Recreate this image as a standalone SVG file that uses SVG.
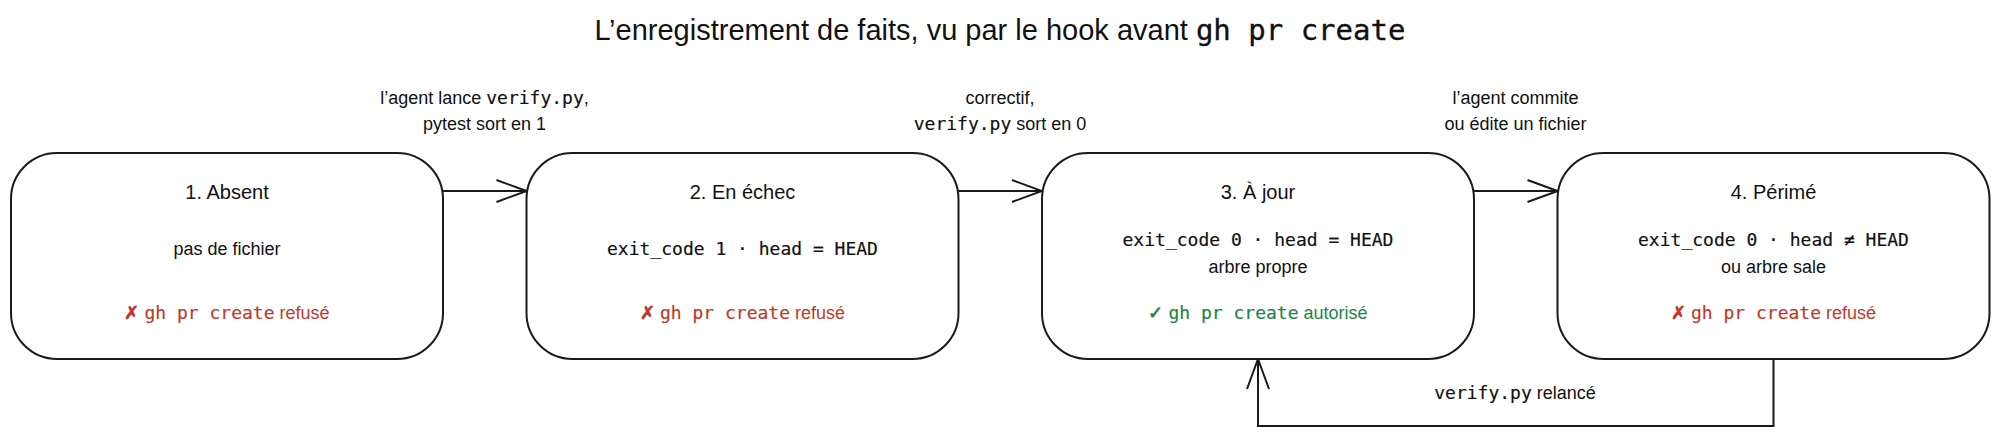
<svg xmlns="http://www.w3.org/2000/svg" width="2000" height="437" viewBox="0 0 2000 437">
<defs>
<style>
.bg{fill:#ffffff}
.node{fill:#ffffff;stroke:#1a1a1a;stroke-width:2}
.edge{fill:none;stroke:#1a1a1a;stroke-width:2}
.sans{font-family:"Liberation Sans",Arial,sans-serif;fill:#111111}
.mono{font-family:"DejaVu Sans Mono","Liberation Mono",monospace;stroke:currentColor;stroke-width:0.18px}
.ink{color:#111111}
.title{font-size:29px}
.ntitle{font-size:20px}
.body{font-size:18px}
.red{fill:#c0392b;color:#c0392b}
.green{fill:#1e8449;color:#1e8449}
.sym{font-weight:bold}
</style>
<marker id="arr" viewBox="0 0 34 26" refX="32" refY="13" markerWidth="34" markerHeight="26" markerUnits="userSpaceOnUse" orient="auto">
<path d="M2,2 L32,13 L2,24" fill="none" stroke="#1a1a1a" stroke-width="2"/>
</marker>
</defs>
<rect class="bg" x="0" y="0" width="2000" height="437"/>
<text class="sans title ink" x="1000" y="40" text-anchor="middle">L’enregistrement de faits, vu par le hook avant <tspan class="mono" style="stroke-width:0.35px">gh pr create</tspan></text>

<g id="connectors">
<line class="edge" x1="443" y1="191" x2="526.5" y2="191" marker-end="url(#arr)"/>
<line class="edge" x1="958.5" y1="191" x2="1042" y2="191" marker-end="url(#arr)"/>
<line class="edge" x1="1474" y1="191" x2="1557.5" y2="191" marker-end="url(#arr)"/>
<polyline class="edge" points="1773.5,359 1773.5,426 1258,426 1258,359" marker-end="url(#arr)"/>
<text class="sans body ink" x="484.5" y="104" text-anchor="middle">l’agent lance <tspan class="mono">verify.py</tspan>,</text>
<text class="sans body" x="484.5" y="130" text-anchor="middle">pytest sort en 1</text>
<text class="sans body" x="1000" y="104" text-anchor="middle">correctif,</text>
<text class="sans body ink" x="1000" y="130" text-anchor="middle"><tspan class="mono">verify.py</tspan> sort en 0</text>
<text class="sans body" x="1515.5" y="104" text-anchor="middle">l’agent commite</text>
<text class="sans body" x="1515.5" y="130" text-anchor="middle">ou édite un fichier</text>
<text class="sans body ink" x="1515" y="399" text-anchor="middle"><tspan class="mono">verify.py</tspan> relancé</text>
</g>

<g id="n1">
<rect class="node" x="11" y="153" width="432" height="206" rx="46" ry="46"/>
<text class="sans ntitle" x="227" y="199" text-anchor="middle">1. Absent</text>
<text class="sans body" x="227" y="255" text-anchor="middle">pas de fichier</text>
<text class="sans body red" x="227" y="319" text-anchor="middle"><tspan class="sym">✗</tspan> <tspan class="mono">gh pr create</tspan> refusé</text>
</g>

<g id="n2">
<rect class="node" x="526.5" y="153" width="432" height="206" rx="46" ry="46"/>
<text class="sans ntitle" x="742.5" y="199" text-anchor="middle">2. En échec</text>
<text class="mono body ink" x="742.5" y="255" text-anchor="middle" fill="#111111">exit_code 1 · head = HEAD</text>
<text class="sans body red" x="742.5" y="319" text-anchor="middle"><tspan class="sym">✗</tspan> <tspan class="mono">gh pr create</tspan> refusé</text>
</g>

<g id="n3">
<rect class="node" x="1042" y="153" width="432" height="206" rx="46" ry="46"/>
<text class="sans ntitle" x="1258" y="199" text-anchor="middle">3. À jour</text>
<text class="mono body ink" x="1258" y="246" text-anchor="middle" fill="#111111">exit_code 0 · head = HEAD</text>
<text class="sans body" x="1258" y="273" text-anchor="middle">arbre propre</text>
<text class="sans body green" x="1258" y="319" text-anchor="middle"><tspan class="sym">✓</tspan> <tspan class="mono">gh pr create</tspan> autorisé</text>
</g>

<g id="n4">
<rect class="node" x="1557.5" y="153" width="432" height="206" rx="46" ry="46"/>
<text class="sans ntitle" x="1773.5" y="199" text-anchor="middle">4. Périmé</text>
<text class="mono body ink" x="1773.5" y="246" text-anchor="middle" fill="#111111">exit_code 0 · head ≠ HEAD</text>
<text class="sans body" x="1773.5" y="273" text-anchor="middle">ou arbre sale</text>
<text class="sans body red" x="1773.5" y="319" text-anchor="middle"><tspan class="sym">✗</tspan> <tspan class="mono">gh pr create</tspan> refusé</text>
</g>
</svg>
